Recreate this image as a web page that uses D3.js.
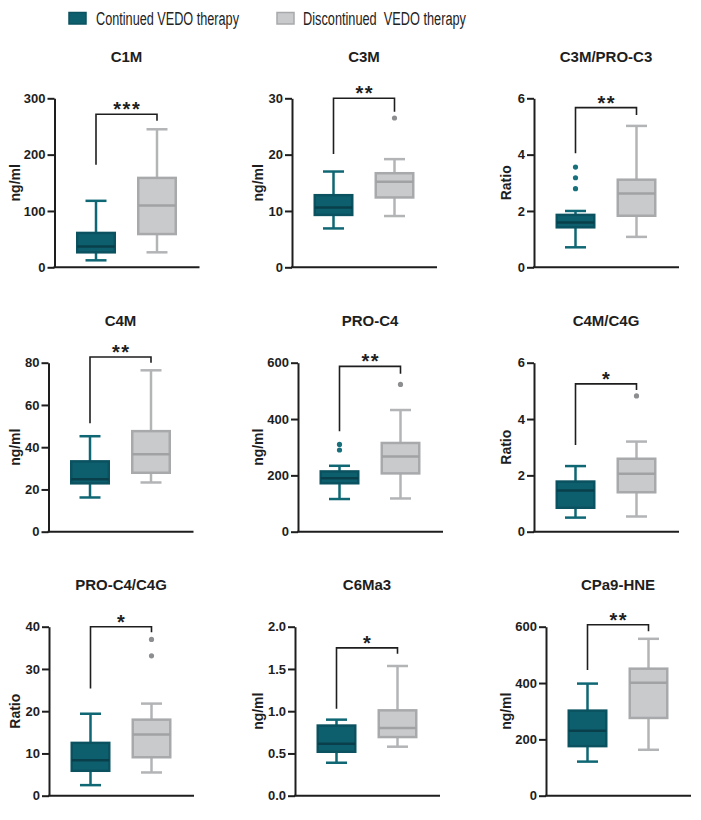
<!DOCTYPE html>
<html>
<head>
<meta charset="utf-8">
<script src="https://cdn.jsdelivr.net/npm/d3@7"></script>
<style>
  html, body { margin: 0; padding: 0; background: #fff; }
  svg { display: block; font-family: "Liberation Sans", Arial, Helvetica, sans-serif; }
</style>
</head>
<body>
<script>
// ---------------- DATA ----------------
const groups = ["Continued VEDO therapy", "Discontinued  VEDO therapy"];
const markers = ["C1M", "C3M", "C3M/PRO-C3", "C4M", "PRO-C4", "C4M/C4G", "PRO-C4/C4G", "C6Ma3", "CPa9-HNE"];
const units = ["ng/ml", "ng/ml", "Ratio", "ng/ml", "ng/ml", "Ratio", "Ratio", "ng/ml", "ng/ml"];
const yTicks = [
  [0, 100, 200, 300], [0, 10, 20, 30], [0, 2, 4, 6],
  [0, 20, 40, 60, 80], [0, 200, 400, 600], [0, 2, 4, 6],
  [0, 10, 20, 30, 40], [0, 0.5, 1.0, 1.5, 2.0], [0, 200, 400, 600]
];
const yTickLabels = [
  ["0", "100", "200", "300"], ["0", "10", "20", "30"], ["0", "2", "4", "6"],
  ["0", "20", "40", "60", "80"], ["0", "200", "400", "600"], ["0", "2", "4", "6"],
  ["0", "10", "20", "30", "40"], ["0.0", "0.5", "1.0", "1.5", "2.0"], ["0", "200", "400", "600"]
];
// [whisker low, Q1, median, Q3, whisker high]
const continuedStats = [
  [12.4, 26.6, 37, 61, 118],
  [6.9, 9.3, 10.6, 12.8, 17.0],
  [0.71, 1.42, 1.59, 1.86, 2.0],
  [16.2, 22.9, 24.8, 33.3, 45.2],
  [116, 172, 190, 214, 234],
  [0.5, 0.85, 1.46, 1.78, 2.33],
  [2.5, 5.9, 8.4, 12.5, 19.4],
  [0.39, 0.52, 0.615, 0.83, 0.90],
  [121, 176, 231, 302, 398]
];
const discontinuedStats = [
  [26.6, 59, 109.5, 158.7, 245],
  [9.1, 12.4, 15.2, 16.7, 19.2],
  [1.08, 1.83, 2.62, 3.11, 5.02],
  [23.3, 27.9, 36.7, 47.6, 76.4],
  [118, 207, 267, 315, 432],
  [0.54, 1.40, 2.06, 2.59, 3.2],
  [5.5, 9.1, 14.5, 18.0, 21.8],
  [0.58, 0.694, 0.80, 1.01, 1.535],
  [163, 276, 401, 451, 557]
];
const continuedOutliers = [[], [], [2.79, 3.18, 3.56], [], [290, 310], [], [], [], []];
const discontinuedOutliers = [[], [26.5], [], [], [523], [4.82], [33.1, 37], [], []];
// significance bracket: [top, left leg end, right leg end]
const brackets = [
  [271.6, 182, 260], [30, 20.1, 27.6], [5.67, 4.05, 5.41],
  [82.7, 51.3, 80], [587, 357, 561], [5.25, 3.08, 5.03],
  [40, 25.4, 38.7], [1.75, 1.03, 1.68], [607, 446, 584]
];
const stars = ["***", "**", "**", "**", "**", "*", "*", "*", "**"];

// ---------------- LAYOUT / STYLE ----------------
const W = 701, H = 820;
const rows = [{ top: 98.3, bot: 267.3 }, { top: 362.7, bot: 531.7 }, { top: 626.7, bot: 795.7 }];
const axisX = [54.5, 292, 534, 48.5, 298, 534, 49, 295, 546];
const labelX = [15, 258, 506];
const plotW = 145, boxW = 40, capW = 21;
const style = [
  { fill: "#0e5f6e", stroke: "#0b5260", median: "#083f4a", whisker: "#0f6774", dot: "#17707c" },
  { fill: "#c9cacc", stroke: "#a7a9ab", median: "#a0a2a4", whisker: "#b2b4b6", dot: "#8c8e90" }
];
const ink = "#1e1e1e";

const svg = d3.select("body").append("svg").attr("width", W).attr("height", H);

// Legend
const legend = svg.append("g");
const legendItems = [
  { rx: 69, tx: 96, tw: 143 },
  { rx: 277, tx: 303, tw: 163 }
];
groups.forEach((gname, gi) => {
  const it = legendItems[gi];
  legend.append("rect").attr("x", it.rx).attr("y", 12.5).attr("width", 17).attr("height", 11.5)
    .attr("fill", style[gi].fill).attr("stroke", style[gi].stroke).attr("stroke-width", 1.5);
  legend.append("text").attr("x", it.tx).attr("y", 25)
    .attr("font-family", "'Liberation Sans Narrow', 'Liberation Sans', Arial, sans-serif")
    .attr("font-size", 18).attr("fill", "#222")
    .attr("textLength", it.tw).attr("lengthAdjust", "spacingAndGlyphs")
    .style("white-space", "pre")
    .text(gname);
});

markers.forEach((name, i) => {
  const row = rows[Math.floor(i / 3)];
  const col = i % 3;
  const x0 = axisX[i];
  const g = svg.append("g");

  const y = d3.scaleLinear().domain([0, d3.max(yTicks[i])]).range([row.bot, row.top]);
  const x = d3.scalePoint().domain(groups).range([x0 + 41.5, x0 + 102.5]);

  // title
  g.append("text").attr("x", x0 + 72).attr("y", row.top - 36.5)
    .attr("text-anchor", "middle").attr("font-size", 15).attr("font-weight", "bold")
    .attr("fill", ink).text(name);

  // y label
  g.append("text")
    .attr("transform", `translate(${labelX[col]},${(row.top + row.bot) / 2}) rotate(-90)`)
    .attr("text-anchor", "middle").attr("dominant-baseline", "central")
    .attr("font-size", 14).attr("font-weight", "bold").attr("fill", ink).text(units[i]);

  // whiskers, boxes
  const statsList = [continuedStats[i], discontinuedStats[i]];
  const outList = [continuedOutliers[i], discontinuedOutliers[i]];
  groups.forEach((gname, gi) => {
    const s = statsList[gi], st = style[gi], cx = x(gname);
    g.append("line").attr("x1", cx).attr("x2", cx).attr("y1", y(s[0])).attr("y2", y(s[4]))
      .attr("stroke", st.whisker).attr("stroke-width", 2.5);
    [s[0], s[4]].forEach(v => {
      g.append("line").attr("x1", cx - capW / 2).attr("x2", cx + capW / 2)
        .attr("y1", y(v)).attr("y2", y(v)).attr("stroke", st.whisker).attr("stroke-width", 2.5);
    });
    g.append("rect").attr("x", cx - boxW / 2 + 1.25).attr("width", boxW - 2.5)
      .attr("y", y(s[3])).attr("height", y(s[1]) - y(s[3]))
      .attr("fill", st.fill).attr("stroke", st.stroke).attr("stroke-width", 2.5);
    g.append("line").attr("x1", cx - boxW / 2 + 1.25).attr("x2", cx + boxW / 2 - 1.25)
      .attr("y1", y(s[2])).attr("y2", y(s[2])).attr("stroke", st.median).attr("stroke-width", 2.5);
    outList[gi].forEach(v => {
      g.append("circle").attr("cx", cx).attr("cy", y(v)).attr("r", 2.6).attr("fill", st.dot);
    });
  });

  // bracket
  const b = brackets[i];
  const xl = x(groups[0]), xr = x(groups[1]);
  g.append("path")
    .attr("d", `M${xl},${y(b[1])}V${y(b[0])}H${xr}V${y(b[2])}`)
    .attr("fill", "none").attr("stroke", ink).attr("stroke-width", 1.6);
  g.append("text").attr("x", (xl + xr) / 2 + 0.8).attr("y", y(b[0]) + 2)
    .attr("text-anchor", "middle").attr("font-size", 20).attr("font-weight", "bold")
    .attr("letter-spacing", 1.6).attr("fill", ink).text(stars[i]);

  // axes
  const ax = g.append("g").attr("transform", `translate(${x0},0)`)
    .call(d3.axisLeft(y).tickValues(yTicks[i]).tickFormat((d, j) => yTickLabels[i][j])
      .tickSize(7).tickSizeOuter(0).tickPadding(2));
  ax.select(".domain").attr("stroke", ink).attr("stroke-width", 2);
  ax.selectAll(".tick line").attr("stroke", ink).attr("stroke-width", 2);
  ax.selectAll(".tick text").attr("font-size", 13).attr("font-weight", "bold")
    .attr("fill", ink).attr("font-family", "'Liberation Sans', Arial, sans-serif");

  g.append("line").attr("x1", x0 - 1).attr("x2", x0 + plotW).attr("y1", y(0)).attr("y2", y(0))
    .attr("stroke", ink).attr("stroke-width", 2);
});
</script>
</body>
</html>
